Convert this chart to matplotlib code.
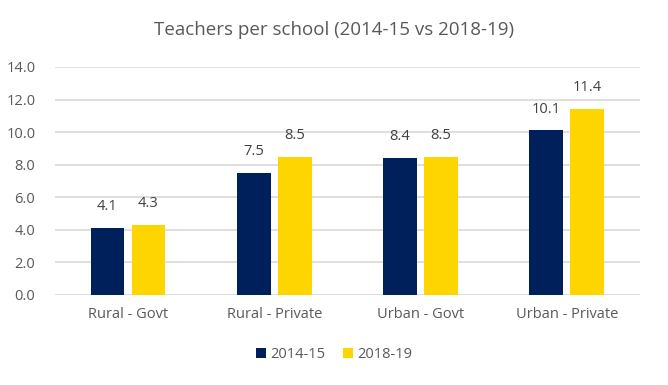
import numpy as np
import matplotlib
matplotlib.use("Agg")
import matplotlib.pyplot as plt

# data
categories = ['Rural - Govt', 'Rural - Private', 'Urban - Govt', 'Urban - Private']
series_names = ['2014-15', '2018-19']
vals_2014 = [4.1, 7.5, 8.4, 10.1]
vals_2018 = [4.3, 8.5, 8.5, 11.4]

plt.rcParams['font.family'] = ['Open Sans', 'DejaVu Sans']
txt = '#595959'

fig = plt.figure(figsize=(6.68, 3.85), dpi=100)
ax = fig.add_axes([0.082, 0.234, 0.876, 0.592])

x = np.arange(len(categories))
w = 0.23
off = 0.14
b1 = ax.bar(x - off, vals_2014, w, color='#00205B', label=series_names[0], zorder=3)
b2 = ax.bar(x + off, vals_2018, w, color='#FFD500', label=series_names[1], zorder=3)

# value labels above the bars
for bars in (b1, b2):
    for r in bars:
        ax.text(r.get_x() + r.get_width() / 2, r.get_height() + 0.85, f'{r.get_height():.1f}',
                ha='center', va='bottom', fontsize=10.5, color='#404040')

ax.set_xlim(-0.5, len(categories) - 0.5)
ax.set_ylim(0, 14)
ax.set_yticks(np.arange(0, 14.1, 2))
ax.set_yticklabels([f'{v:.1f}' for v in np.arange(0, 14.1, 2)])
ax.set_xticks(x)
ax.set_xticklabels(categories)
ax.tick_params(axis='both', length=0, labelsize=10.5, labelcolor=txt)
ax.tick_params(axis='x', pad=9)
ax.tick_params(axis='y', pad=14)
ax.yaxis.grid(True, color='#D9D9D9', linewidth=1.2, zorder=0)
for s in ax.spines.values():
    s.set_visible(False)

fig.suptitle('Teachers per school (2014-15 vs 2018-19)', x=0.5, y=0.945, fontsize=13.5, color=txt)
fig.legend(loc='center', bbox_to_anchor=(0.5, 0.078), ncol=2, frameon=False, fontsize=10.5,
           labelcolor=txt, handlelength=0.7, handleheight=0.7, handletextpad=0.3, columnspacing=1.2)

fig.savefig('out.png', dpi=100)
